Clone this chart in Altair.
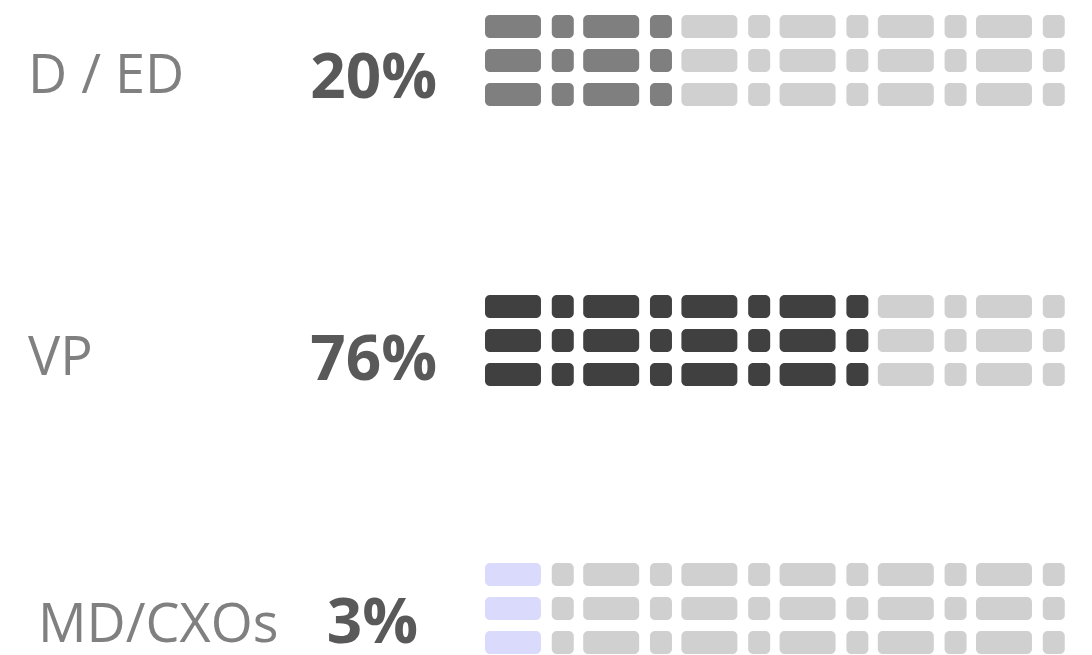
import altair as alt
import pandas as pd

# ---- data ----
categories = ["D / ED", "VP", "MD/CXOs"]
percent_labels = ["20%", "76%", "3%"]
filled_columns = [4, 8, 1]          # coloured columns out of 12
fill_colors = ["#7f7f7f", "#404040", "#dadafc"]
n_columns = 12                       # wide / narrow alternating
n_subrows = 3

EMPTY = "#d0d0d0"
W = 1076
PANEL_H = [280, 268, 99]
LABEL_X = [20, 20, 30]
LABEL_Y = [85, 87, 86]
PCT_X = [429, 429, 410]
PCT_Y = [90, 92, 87]

UNIT_PX = 98.2      # pixels per wide+narrow pair
X0_PX = 477         # start of the block grid
ROW_PX = 34         # sub-row pitch
TOP_PX = 7


def block_table(i):
    rows = []
    for c in range(n_columns):
        k = c // 2
        narrow = c % 2 == 1
        start = k + (0.68 if narrow else 0.0)
        end = start + (0.224 if narrow else 0.57)
        for r in range(n_subrows):
            rows.append({
                "cat": categories[i], "col": c, "sub": r,
                "x0": start, "x1": end,
                "y0": r, "y1": r + 23 / 34,
                "filled": 1 if c < filled_columns[i] else 0,
            })
    return pd.DataFrame(rows)


def panel(i):
    h = PANEL_H[i]
    xs = alt.Scale(domain=[-X0_PX / UNIT_PX, (W - X0_PX) / UNIT_PX], nice=False, zero=False)
    ys = alt.Scale(domain=[-TOP_PX / ROW_PX, (h - TOP_PX) / ROW_PX], nice=False, zero=False, reverse=True)
    blocks = alt.Chart(block_table(i)).mark_rect(cornerRadius=5).encode(
        x=alt.X("x0:Q", scale=xs, axis=None),
        x2="x1:Q",
        y=alt.Y("y0:Q", scale=ys, axis=None),
        y2="y1:Q",
        color=alt.condition(alt.datum.filled == 1,
                            alt.value(fill_colors[i]),
                            alt.value(EMPTY)),
    )
    txt = pd.DataFrame({"label": [categories[i]], "pct": [percent_labels[i]]})
    label = alt.Chart(txt).mark_text(
        font="Open Sans", fontSize=54, color="#808080", align="left", baseline="alphabetic"
    ).encode(text="label:N", x=alt.value(LABEL_X[i]), y=alt.value(LABEL_Y[i]))
    pct = alt.Chart(txt).mark_text(
        font="Open Sans", fontSize=62, fontWeight="bold", color="#595959",
        align="right", baseline="alphabetic"
    ).encode(text="pct:N", x=alt.value(PCT_X[i]), y=alt.value(PCT_Y[i]))
    return alt.layer(blocks, label, pct).properties(width=W, height=h)


chart = alt.vconcat(*[panel(i) for i in range(3)], spacing=0).properties(
    padding=0
).configure_view(stroke=None)

chart.save("out.html", embed_options={"renderer": "svg", "actions": False})
